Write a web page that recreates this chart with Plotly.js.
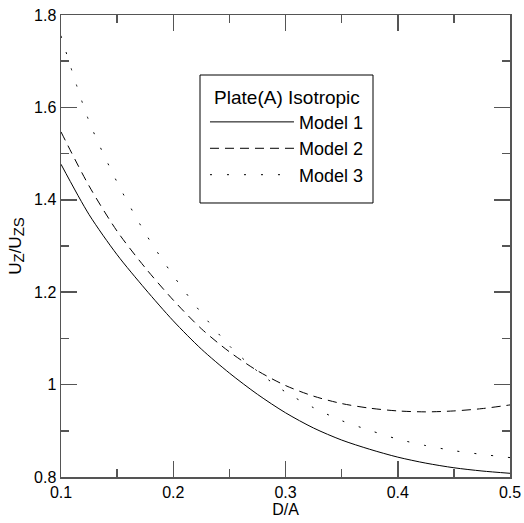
<!DOCTYPE html>
<html>
<head>
<meta charset="utf-8">
<script src="https://cdn.plot.ly/plotly-3.0.1.min.js"></script>
<style>html,body{margin:0;padding:0;background:#fff;}#chart{width:524px;height:523px;}</style>
</head>
<body>
<div id="chart"></div>
<script>
var dA = [0.1, 0.125, 0.15, 0.175, 0.2, 0.225, 0.25, 0.275, 0.3, 0.325, 0.35, 0.375, 0.4, 0.425, 0.45, 0.475, 0.5];
var model1 = [1.477, 1.368, 1.281, 1.207, 1.138, 1.077, 1.025, 0.979, 0.939, 0.906, 0.880, 0.860, 0.843, 0.830, 0.820, 0.813, 0.808];
var model2 = [1.547, 1.430, 1.332, 1.253, 1.183, 1.121, 1.071, 1.030, 0.998, 0.975, 0.959, 0.949, 0.943, 0.941, 0.943, 0.948, 0.956];
var model3 = [1.755, 1.570, 1.438, 1.328, 1.236, 1.155, 1.084, 1.029, 0.984, 0.950, 0.922, 0.901, 0.882, 0.868, 0.857, 0.849, 0.842];
var names = ['Model 1', 'Model 2', 'Model 3'];
var legendTitle = 'Plate(A) Isotropic';
var xTitle = 'D/A';
var yTitle = 'U<sub><span style="font-size:15px">Z</span></sub>/U<sub><span style="font-size:15px">ZS</span></sub>';

var FONT = 'Arial, "Liberation Sans", sans-serif';
function tr(y, name, dash) {
  return {x: dA, y: y, name: name, type: 'scatter', mode: 'lines',
    line: {color: '#000', width: 1, dash: dash, shape: 'spline', smoothing: 0.8}};
}
var data = [
  tr(model1, names[0], 'solid'),
  tr(model2, names[1], '9px,6px'),
  tr(model3, names[2], '2px,15px')
];
var axisCommon = {
  showline: true, linecolor: '#555', linewidth: 1.5, mirror: 'ticks',
  ticks: 'inside', ticklen: 16, tickwidth: 1.5, tickcolor: '#555',
  showgrid: false, zeroline: false,
  tickfont: {family: FONT, size: 16, color: '#000'}
};
var layout = {
  width: 524, height: 523,
  margin: {l: 61, r: 14, t: 15, b: 46},
  paper_bgcolor: '#fff', plot_bgcolor: '#fff',
  font: {family: FONT, color: '#000'},
  xaxis: Object.assign({}, axisCommon, {
    range: [0.1, 0.5], dtick: 0.1, tick0: 0.1,
    minor: {ticks: 'inside', ticklen: 8, dtick: 0.05, tickwidth: 1.5, tickcolor: '#555'},
    title: {text: xTitle, font: {family: FONT, size: 16}, standoff: 4}
  }),
  yaxis: Object.assign({}, axisCommon, {
    range: [0.8, 1.8], dtick: 0.2, tick0: 0.8,
    minor: {ticks: 'inside', ticklen: 8, dtick: 0.1, tickwidth: 1.5, tickcolor: '#555'},
    title: {text: yTitle, font: {family: FONT, size: 17}, standoff: 8}
  }),
  showlegend: true,
  legend: {
    x: 0.3207, y: 0.8615, xanchor: 'left', yanchor: 'top',
    bgcolor: 'rgba(0,0,0,0)', borderwidth: 0,
    font: {family: FONT, size: 18, color: '#000'},
    title: {text: legendTitle, side: 'top center', font: {family: FONT, size: 19}},
    itemwidth: 84, tracegroupgap: 0
  },
  shapes: [{
    type: 'rect', xref: 'paper', yref: 'paper',
    x0: 0.3096, x1: 0.6949, y0: 0.5931, y1: 0.8701,
    line: {color: '#000', width: 1}, fillcolor: '#fff', layer: 'above'
  }]
};
Plotly.newPlot('chart', data, layout, {staticPlot: true, displayModeBar: false});
</script>
</body>
</html>
